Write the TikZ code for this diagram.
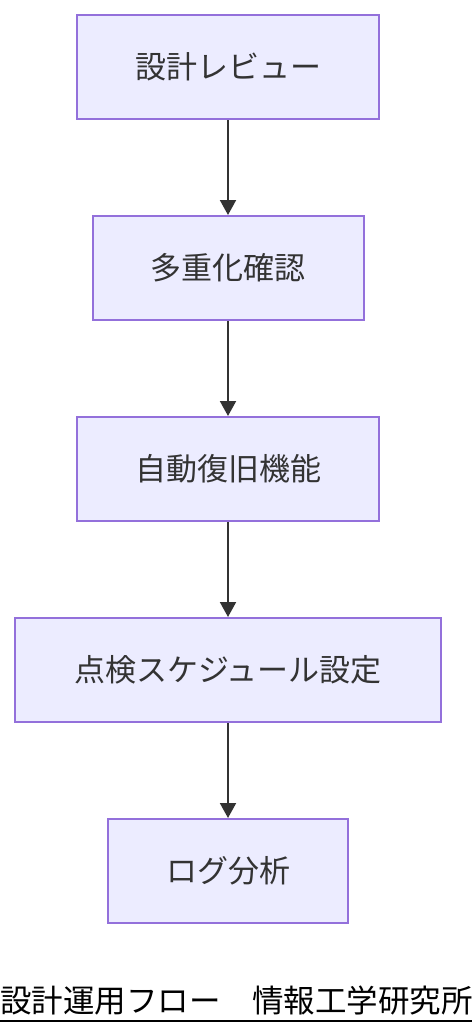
\documentclass[tikz,border=0pt]{standalone}
\usepackage{fontspec}
\newfontfamily\jpfont{Noto Sans CJK JP}
\usetikzlibrary{arrows.meta}
\definecolor{boxfill}{HTML}{ECECFF}
\definecolor{boxline}{HTML}{9370DB}
\definecolor{ink}{HTML}{333333}

\tikzset{
  flowbox/.style={draw=boxline, fill=boxfill, line width=2pt, minimum height=104pt,
    inner sep=0pt, text=ink, font=\jpfont\fontsize{31}{36}\selectfont},
  flowarrow/.style={draw=ink, line width=2pt, -{Triangle[length=15pt,width=16pt]}}
}

\begin{document}
\begin{tikzpicture}[x=1pt,y=-1pt]
  \useasboundingbox (0,0) rectangle (472,1036);

  \node[flowbox, minimum width=302pt] (review) at (228, 67) {設計レビュー};
  \node[flowbox, minimum width=271pt] (redund) at (228, 268) {多重化確認};
  \node[flowbox, minimum width=302pt] (recover) at (228, 469) {自動復旧機能};
  \node[flowbox, minimum width=426pt] (sched) at (228, 670) {点検スケジュール設定};
  \node[flowbox, minimum width=240pt] (logs) at (228, 871) {ログ分析};

  \draw[flowarrow] (review) -- (redund);
  \draw[flowarrow] (redund) -- (recover);
  \draw[flowarrow] (recover) -- (sched);
  \draw[flowarrow] (sched) -- (logs);

  % footer caption
  \node[anchor=west, inner sep=0pt, font=\jpfont\fontsize{31.5}{36}\selectfont] (caption) at (0, 1001) {設計運用フロー　情報工学研究所};
  \draw[line width=2.5pt] (0, 1021) -- (472, 1021);
\end{tikzpicture}
\end{document}
